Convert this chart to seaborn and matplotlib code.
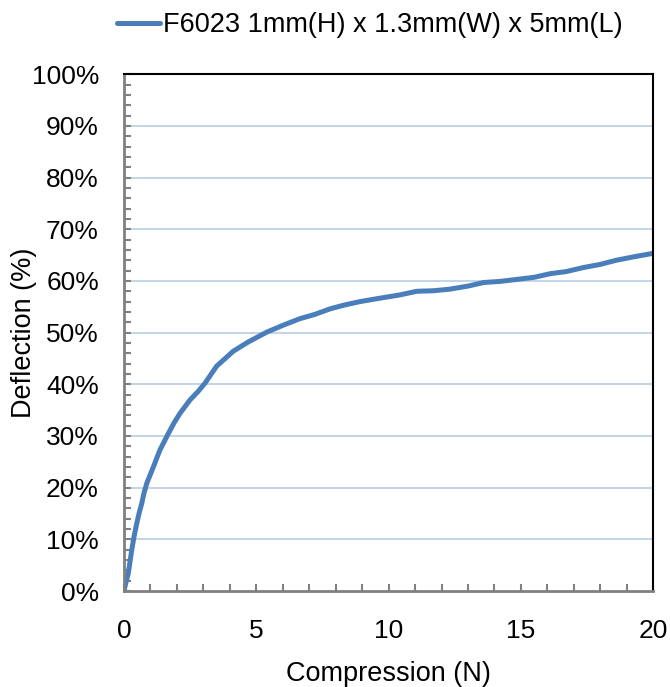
import matplotlib.pyplot as plt
from matplotlib.ticker import MultipleLocator, PercentFormatter
import seaborn as sns
import pandas as pd

# 读图估计的数据点
compression_n = [0.0, 0.08, 0.16, 0.29, 0.38, 0.48, 0.57, 0.67, 0.76, 0.86, 1.11, 1.36,
                 1.68, 1.9, 2.12, 2.5, 2.8, 3.06, 3.5, 4.13, 4.7, 5.4, 6.0,
                 6.65, 7.2, 7.79, 8.3, 8.92, 9.6, 10.43, 11.07, 11.7, 12.3, 13.0,
                 13.6, 14.2, 14.85, 15.5, 16.1, 16.7, 17.37, 18.0, 18.6, 19.3, 19.95]
deflection_pct = [0.0, 1.8, 3.3, 7.8, 10.5, 13.0, 15.0, 16.9, 19.0, 20.8, 24.0, 27.3,
                  30.5, 32.6, 34.4, 37.0, 38.6, 40.2, 43.5, 46.4, 48.2, 50.1, 51.4,
                  52.7, 53.5, 54.6, 55.3, 56.0, 56.6, 57.3, 58.0, 58.1, 58.4, 59.0,
                  59.7, 59.9, 60.3, 60.7, 61.4, 61.8, 62.6, 63.2, 64.0, 64.7, 65.3]
series_label = "F6023 1mm(H) x 1.3mm(W) x 5mm(L)"

df = pd.DataFrame({"Compression (N)": compression_n, "Deflection (%)": deflection_pct})

sns.set_style("white")
plt.rcParams["font.family"] = ["Liberation Sans", "DejaVu Sans"]
plt.rcParams["text.color"] = "black"

fig = plt.figure(figsize=(6.7, 6.87), dpi=100)
ax = fig.add_axes([0.185, 0.1397, 0.79, 0.7523])

for v in range(10, 101, 10):
    ax.axhline(v, color="#b9cde5", linewidth=1.2, zorder=0)

sns.lineplot(data=df, x="Compression (N)", y="Deflection (%)", color="#4a7ebb",
             linewidth=3.6, label=series_label, ax=ax, legend=False)

ax.set_xlim(0, 20)
ax.set_ylim(0, 100)
ax.xaxis.set_major_locator(MultipleLocator(5))
ax.xaxis.set_minor_locator(MultipleLocator(1))
ax.yaxis.set_major_locator(MultipleLocator(10))
ax.yaxis.set_minor_locator(MultipleLocator(2))
ax.yaxis.set_major_formatter(PercentFormatter(decimals=0))

ax.tick_params(axis="both", which="both", direction="in", color="#808080", width=1.5,
               labelsize=19, labelcolor="black")
ax.tick_params(axis="both", which="both", length=5)
ax.tick_params(axis="x", which="major", pad=20)
ax.tick_params(axis="y", which="major", pad=18)
ax.tick_params(axis="y", which="both", left=True, right=False)
ax.tick_params(axis="x", which="both", bottom=True, top=False)

for side in ["left", "bottom"]:
    ax.spines[side].set_color("#808080")
    ax.spines[side].set_linewidth(2)
for side in ["top", "right"]:
    ax.spines[side].set_color("black")
    ax.spines[side].set_linewidth(1.5)

ax.set_xlabel("Compression (N)", fontsize=19.5, color="black")
ax.set_ylabel("Deflection (%)", fontsize=19.5, color="black")
ax.xaxis.set_label_coords(0.5, -0.136)
ax.yaxis.set_label_coords(-0.165, 0.5)

fig.legend(*ax.get_legend_handles_labels(), loc="upper center",
           bbox_to_anchor=(0.552, 1.018), frameon=False, fontsize=19.5,
           handlelength=1.6, handletextpad=0.1)

fig.savefig("out.png", dpi=100)
